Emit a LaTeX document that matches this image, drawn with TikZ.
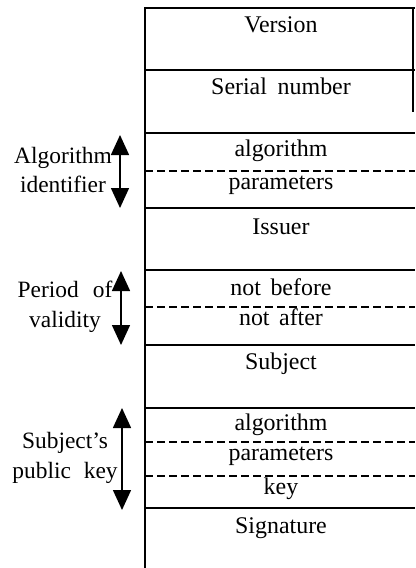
\documentclass[tikz,border=0pt]{standalone}
\usepackage{fontspec}
\setmainfont{Liberation Serif}
\usetikzlibrary{arrows.meta}
\begin{document}
\begin{tikzpicture}[x=1bp,y=-1bp,
  rule/.style={line width=1.5bp},
  subrule/.style={line width=1.5bp, dash pattern=on 8bp off 4bp},
  field/.style={anchor=base, inner sep=0pt, font=\fontsize{24}{28}\selectfont},
  side/.style={align=center, inner sep=0pt, font=\fontsize{23.5}{30}\selectfont},
  span/.style={line width=1.5bp,
    {Triangle[width=18bp,length=20bp]}-{Triangle[width=18bp,length=20bp]}}]
\useasboundingbox (0,0) rectangle (415,568);

% certificate record: outer frame
\draw[rule] (145,568) -- (145,8) -- (415,8);
\draw[rule] (413,8) -- (413,112);
% field separators
\foreach \y in {70,133,208,270,345,408,508}
  \draw[rule] (145,\y) -- (415,\y);
% sub-field separators
\foreach \y in {171,307,442,476}
  \draw[subrule] (145,\y) -- (415,\y);

% field names
\node[field] (version) at (281,33)  {Version};
\node[field] (serial)  at (281,95)  {Serial\hspace{0.45em}number};
\node[field] (algo1)   at (281,157) {algorithm};
\node[field] (param1)  at (281,189) {parameters};
\node[field] (issuer)  at (281,234) {Issuer};
\node[field] (before)  at (281,295) {not\hspace{0.4em}before};
\node[field] (after)   at (281,325) {not\hspace{0.4em}after};
\node[field] (subject) at (281,369) {Subject};
\node[field] (algo2)   at (281,430) {algorithm};
\node[field] (param2)  at (281,460) {parameters};
\node[field] (key)     at (281,494) {key};
\node[field] (sig)     at (281,533) {Signature};

% group labels with their extent arrows
\node[side] (algid) at (63,170) {Algorithm\\identifier};
\coordinate (algtop) at (120,135);
\coordinate (algbot) at (120,208);
\draw[span] (algtop) -- (algbot);

\node[side] (period) at (65,307) {Period\hspace{0.6em}of\\validity};
\coordinate (pertop) at (121,271);
\coordinate (perbot) at (121,345);
\draw[span] (pertop) -- (perbot);

\node[side] (pubkey) at (65,458) {Subject’s\\public\hspace{0.55em}key};
\coordinate (pktop) at (122,408);
\coordinate (pkbot) at (122,510);
\draw[span] (pktop) -- (pkbot);
\end{tikzpicture}
\end{document}
